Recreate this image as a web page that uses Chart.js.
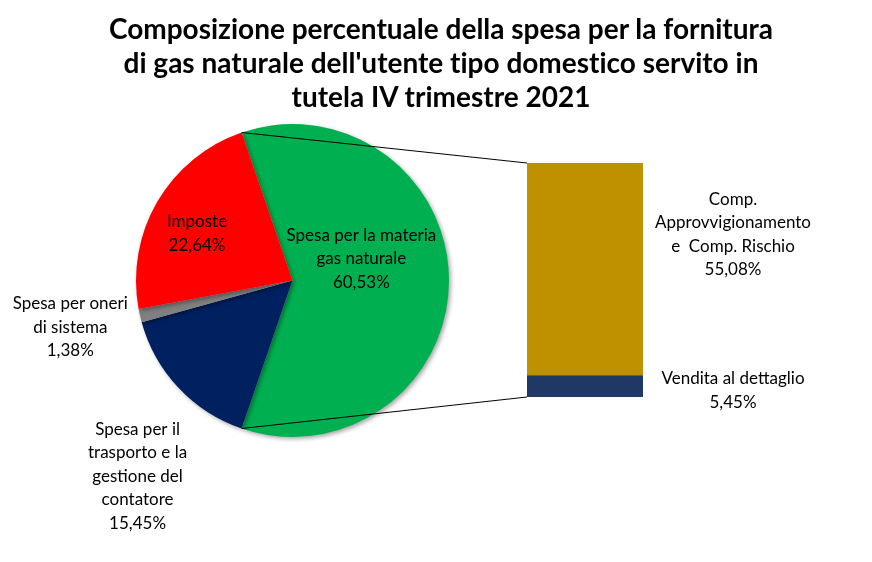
<!DOCTYPE html>
<html><head><meta charset="utf-8">
<script src="https://cdn.jsdelivr.net/npm/chart.js@4.4.1/dist/chart.umd.min.js"></script>
<style>
html,body{margin:0;padding:0;background:#fff;}
#wrap{position:relative;width:872px;height:562px;overflow:hidden;font-family:Lato,sans-serif;}
#title{position:absolute;left:5px;top:11px;width:872px;text-align:center;font:bold 28px Lato,sans-serif;line-height:34px;color:#000;font-variant-ligatures:none;}
#pie{position:absolute;left:0;top:0;}
#bar{position:absolute;left:500px;top:140px;}
</style></head>
<body><div id="wrap">
<canvas id="pie" width="872" height="562"></canvas>
<canvas id="bar" width="372" height="290"></canvas>
<div id="title">Composizione percentuale della spesa per la fornitura<br>di gas naturale dell'utente tipo domestico servito in<br>tutela IV trimestre 2021</div>
</div>
<script>
// ---- data ----
const pieLabels = [
  ["Spesa per la materia", "gas naturale"],
  ["Spesa per il", "trasporto e la", "gestione del", "contatore"],
  ["Spesa per oneri", "di sistema"],
  ["Imposte"]
];
const pieValues = [60.53, 15.45, 1.38, 22.64];
const pieColors = ["#00B050", "#002060", "#808080", "#FF0000"];

const barLabels = [["Vendita al dettaglio"], ["Comp.", "Approvvigionamento", "e  Comp. Rischio"]];
const barValues = [5.45, 55.08];
const barColors = ["#203864", "#BF9000"];

const fmt = v => v.toFixed(2).replace('.', ',') + '%';
const FONT = '17px Lato, sans-serif';
const LH = 23.5;

// label layout (relative to pie centre, in units of radius)
const pieLabelPos = [[0.44, -0.14], [-0.99, 1.25], [-1.42, 0.30], [-0.61, -0.30]];

function drawBlock(ctx, lines, x, cy) {
  ctx.save();
  ctx.font = FONT; ctx.fillStyle = '#000';
  ctx.textAlign = 'center'; ctx.textBaseline = 'middle';
  const top = cy - (lines.length - 1) * LH / 2;
  lines.forEach((l, i) => ctx.fillText(l, x, top + i * LH));
  ctx.restore();
}

const shadowPlugin = {
  id: 'shadow',
  beforeDatasetsDraw(chart) {
    const c = chart.ctx; c.save();
    c.shadowColor = 'rgba(0,0,0,0.35)'; c.shadowBlur = 4; c.shadowOffsetX = 2; c.shadowOffsetY = 2;
  },
  afterDatasetsDraw(chart) { chart.ctx.restore(); }
};

// ---- bar chart ----
const barChart = new Chart(document.getElementById('bar'), {
  type: 'bar',
  data: {
    labels: [''],
    datasets: barValues.map((v, i) => ({ label: barLabels[i].join(' '), data: [v], backgroundColor: barColors[i], borderWidth: 0, barPercentage: 1, categoryPercentage: 1 }))
  },
  options: {
    responsive: false, animation: false,
    layout: { padding: { left: 27, right: 229, top: 23, bottom: 33 } },
    plugins: { legend: { display: false }, tooltip: { enabled: false } },
    scales: {
      x: { display: false, stacked: true },
      y: { display: false, stacked: true, min: 0, max: barValues.reduce((a, b) => a + b, 0) }
    }
  },
  plugins: [shadowPlugin, {
    id: 'barLabels',
    afterDraw(chart) {
      const ctx = chart.ctx;
      const offs = [4, -35];
      chart.data.datasets.forEach((ds, i) => {
        const el = chart.getDatasetMeta(i).data[0];
        const right = el.x + el.width / 2;
        const cy = (el.y + el.base) / 2 + offs[i];
        drawBlock(ctx, barLabels[i].concat([fmt(barValues[i])]), right + 90, cy);
      });
    }
  }]
});

// ---- pie chart ----
const pieTotal = pieValues.reduce((a, b) => a + b, 0);
const barCanvas = document.getElementById('bar');
new Chart(document.getElementById('pie'), {
  type: 'pie',
  data: {
    labels: pieLabels.map(l => l.join(' ')),
    datasets: [{ data: pieValues, backgroundColor: pieColors, borderWidth: 0 }]
  },
  options: {
    responsive: false, animation: false,
    rotation: 90 - (pieValues[0] / pieTotal) * 180,
    layout: { padding: { left: 136, right: 423, top: 124, bottom: 125 } },
    plugins: { legend: { display: false }, tooltip: { enabled: false } }
  },
  plugins: [shadowPlugin, {
    id: 'pieLabels',
    afterDraw(chart) {
      const ctx = chart.ctx;
      const arcs = chart.getDatasetMeta(0).data;
      const a0 = arcs[0];
      const cx = a0.x, cy = a0.y, r = a0.outerRadius;
      arcs.forEach((a, i) => {
        const p = pieLabelPos[i];
        drawBlock(ctx, pieLabels[i].concat([fmt(pieValues[i])]), cx + p[0] * r, cy + p[1] * r);
      });
      // connector lines to the bar
      const ox = barCanvas.offsetLeft, oy = barCanvas.offsetTop;
      const bm = barChart.getDatasetMeta(barValues.length - 1).data[0];
      const bb = barChart.getDatasetMeta(0).data[0];
      const bx = ox + bm.x - bm.width / 2;
      const yTop = oy + bm.y, yBot = oy + bb.base;
      ctx.save();
      ctx.strokeStyle = '#000'; ctx.lineWidth = 1;
      ctx.beginPath();
      ctx.moveTo(cx + r * Math.cos(a0.startAngle), cy + r * Math.sin(a0.startAngle));
      ctx.lineTo(bx, yTop);
      ctx.moveTo(cx + r * Math.cos(a0.endAngle), cy + r * Math.sin(a0.endAngle));
      ctx.lineTo(bx, yBot);
      ctx.stroke();
      ctx.restore();
    }
  }]
});
</script>
</body></html>
